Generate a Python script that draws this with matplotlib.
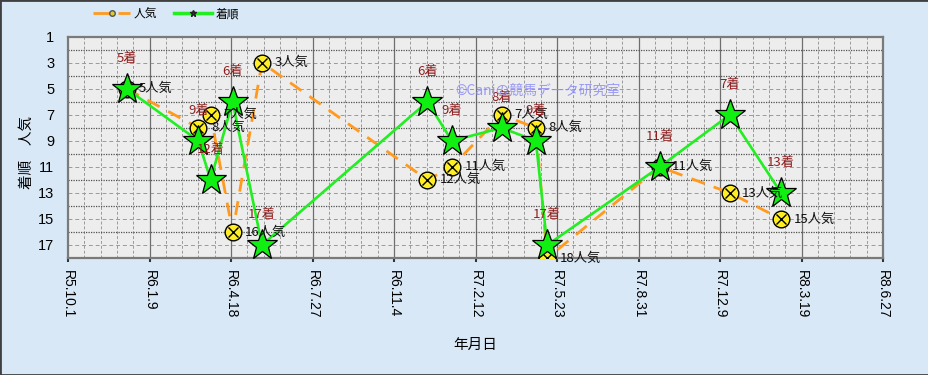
import matplotlib
matplotlib.use("Agg")
import matplotlib.pyplot as plt
import matplotlib.dates as mdates
from matplotlib.lines import Line2D
from matplotlib.patches import Rectangle
from datetime import datetime

plt.rcParams['font.family'] = ['Noto Sans CJK JP', 'DejaVu Sans']

# ---- data ----
race_dates = ["2023-12-12", "2024-03-09", "2024-03-24", "2024-04-20", "2024-05-26",
              "2024-12-15", "2025-01-14", "2025-03-16", "2025-04-27", "2025-05-11",
              "2025-09-26", "2025-12-21", "2026-02-22"]
rank = [5, 9, 12, 6, 17, 6, 9, 8, 9, 17, 11, 7, 13]
popularity = [5, 8, 7, 16, 3, 12, 11, 7, 8, 18, 11, 13, 15]
tick_start = "2023-10-01"
tick_step_days = 100
tick_labels = ["R5.10.1", "R6.1.9", "R6.4.18", "R6.7.27", "R6.11.4", "R7.2.12",
               "R7.5.23", "R7.8.31", "R7.12.9", "R8.3.19", "R8.6.27"]
y_ticks = [1, 3, 5, 7, 9, 11, 13, 15, 17]

x = mdates.date2num([datetime.strptime(d, "%Y-%m-%d") for d in race_dates])
x0 = mdates.date2num(datetime.strptime(tick_start, "%Y-%m-%d"))
xticks = [x0 + tick_step_days * i for i in range(len(tick_labels))]

fig = plt.figure(figsize=(9.29, 3.75), dpi=100)
fig.patch.set_facecolor('#D9E8F6')
ax = fig.add_axes([68/929, 1-258/375, (883-68)/929, (258-36.7)/375])
ax.set_facecolor('#EDEDED')

ax.set_xlim(xticks[0], xticks[-1])
ax.set_ylim(18, 1)

# grid
for i in range(len(xticks) - 1):
    for k in range(1, 5):
        ax.axvline(xticks[i] + 20 * k, color='#9A9A9A', lw=0.7, ls=(0, (3, 2)), zorder=0.5)
for xt in xticks[1:-1]:
    ax.axvline(xt, color='#6E6E6E', lw=0.9, zorder=0.6)
for yv in range(2, 18, 2):
    ax.axhline(yv, color='#505050', lw=0.9, ls=(0, (1, 1)), zorder=0.6)
for yv in range(3, 18, 2):
    ax.axhline(yv, color='#9A9A9A', lw=0.7, ls=(0, (4, 3)), zorder=0.5)

# popularity series
ax.plot(x, popularity, color='#FF9A1E', lw=2.0, dashes=(5, 3.5), zorder=2)
ax.plot(x, popularity, ls='none', marker='o', ms=12, mfc='#FFEE22', mec='black', mew=1.0, zorder=3)
ax.plot(x, popularity, ls='none', marker='x', ms=7, mec='black', mew=1.0, zorder=3.1)

# rank series
ax.plot(x, rank, color='#22EE22', lw=1.9, zorder=4)
ax.plot(x, rank, ls='none', marker='*', ms=23, mfc='#11EE11', mec='black', mew=0.9, zorder=5)

for xi, p in zip(x, popularity):
    ax.annotate(f"{p}人気", (xi, p), xytext=(9, 0), textcoords='offset points',
                ha='left', va='center', fontsize=9.5, color='#111111', zorder=6)
for xi, r in zip(x, rank):
    ax.annotate(f"{r}着", (xi, r), xytext=(0, 22), textcoords='offset points',
                ha='center', va='center', fontsize=9.5, color='#8E1E1E', zorder=6)

ax.set_xticks(xticks)
ax.set_xticklabels(tick_labels, rotation=-90, fontsize=10, family=['Liberation Sans'])
ax.set_yticks(y_ticks)
ax.set_yticklabels([str(v) for v in y_ticks], fontsize=10.5, family=['Liberation Sans'])
ax.tick_params(axis='x', length=3, width=1.5, color='#333333', pad=6)
ax.tick_params(axis='y', length=0, pad=10)
for s in ax.spines.values():
    s.set_color('#7A7A7A')
    s.set_linewidth(1.6)

fig.text(475/929, 1-345/375, "年月日", ha='center', va='center', fontsize=10.5)
fig.text(27/929, 1-152/375, "着順　人気", ha='center', va='center', rotation=90, fontsize=10.5)

fig.text(455/929, 1-91/375, "©Caniの競馬データ研究室", ha='left', va='center',
         fontsize=10, color='#8C8CF5', alpha=0.85, zorder=10)

handles = [Line2D([], [], color='#FF9A1E', lw=2, dashes=(6, 3), marker='o', ms=4,
                  mfc='#DDCC22', mec='#555555'),
           Line2D([], [], color='#22EE22', lw=2.5, marker='*', ms=5, mfc='#115511', mec='#222222')]
fig.legend(handles, ["人気", "着順"], loc='center left', bbox_to_anchor=(82/929, 1-14/375),
           ncol=2, frameon=False, fontsize=8.5, handlelength=3.2, columnspacing=1.4,
           handletextpad=0.3)

fig.add_artist(Rectangle((0, 0), 1, 1, transform=fig.transFigure, fill=False,
                         edgecolor='#404040', lw=2))

fig.savefig("out.png", dpi=100, facecolor=fig.get_facecolor())
